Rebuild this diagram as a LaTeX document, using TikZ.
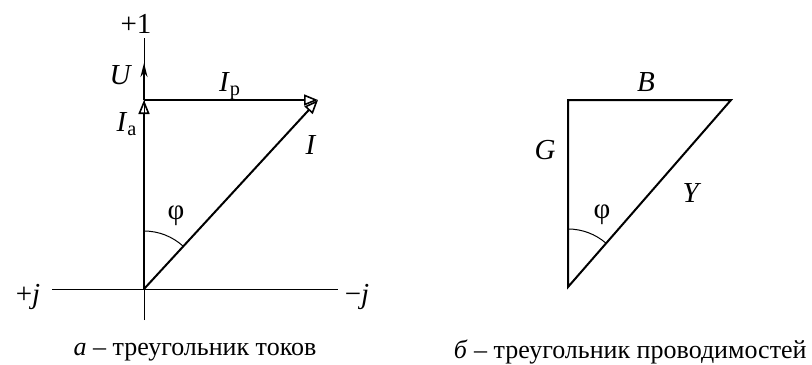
\documentclass[tikz,border=0pt]{standalone}
\usepackage{fontspec}
\setmainfont{Liberation Serif}
\usetikzlibrary{arrows.meta,calc}

\begin{document}
\begin{tikzpicture}[
  x=0.5pt, y=-0.5pt,
  font=\fontsize{13}{15}\selectfont,
  axis/.style={line width=0.5pt},
  vec/.style={line width=1pt},
  opentip/.style={-{Triangle[open, length=7pt, width=5.5pt, line width=0.8pt]}},
  lbl/.style={inner sep=0pt, font=\fontsize{14.5}{17}\selectfont}
]
\useasboundingbox (0,0) rectangle (812,364);
% left: current triangle
\coordinate (O) at (144,289);
\coordinate (A) at (144,100);
\coordinate (P) at (318,100);
\coordinate (Utip) at (144,63);
\coordinate (ytop) at (144,38);
\coordinate (ybot) at (144,320);
\coordinate (xl) at (52,289);
\coordinate (xr) at (338,289);

\draw[axis] (ybot) -- (ytop);
\draw[axis] (xl) -- (xr);
\draw[vec, -{Stealth[length=7pt, width=3.5pt]}] (A) -- (Utip);
\draw[vec, opentip] (O) -- (A);
\draw[vec, opentip] (A) -- (P);
\draw[vec, opentip] (O) -- (P);
\draw[axis] ($(O)+(0,-58)$) arc[start angle=90, end angle={90-atan(174/189)}, radius=29pt];

\node[lbl] (plus1) at (136,24) {+1};
\node[lbl] (lU) at (121,75) {\textit{U}};
\node[lbl] (lIp) at (230,86) {\textit{I}\textsubscript{р}};
\node[lbl] (lIa) at (127,124) {\textit{I}\textsubscript{а}};
\node[lbl] (lI) at (311,145) {\textit{I}};
\node[lbl] (lphi) at (176,216) {φ};
\node[lbl] (lpj) at (28,297) {+\textit{j}};
\node[lbl] (lmj) at (357,297) {−\textit{j}};
\node (capa) at (195,352) {\textit{а} – треугольник токов};

% right: admittance triangle
\coordinate (B1) at (568,100);
\coordinate (B2) at (731,100);
\coordinate (B0) at (568,287);
\draw[vec, line join=miter] (B0) -- (B1) -- (B2) -- cycle;
\draw[axis] ($(B0)+(0,-58)$) arc[start angle=90, end angle={90-atan(163/187)}, radius=29pt];

\node[lbl] (lB) at (646,82) {\textit{B}};
\node[lbl] (lG) at (545,150) {\textit{G}};
\node[lbl] (lY) at (692,193) {\textit{Y}};
\node[lbl] (lphi2) at (602,215) {φ};
\node[anchor=east, inner sep=0pt] (capb) at (807,352) {\textit{б} – треугольник проводимостей};
\end{tikzpicture}
\end{document}
